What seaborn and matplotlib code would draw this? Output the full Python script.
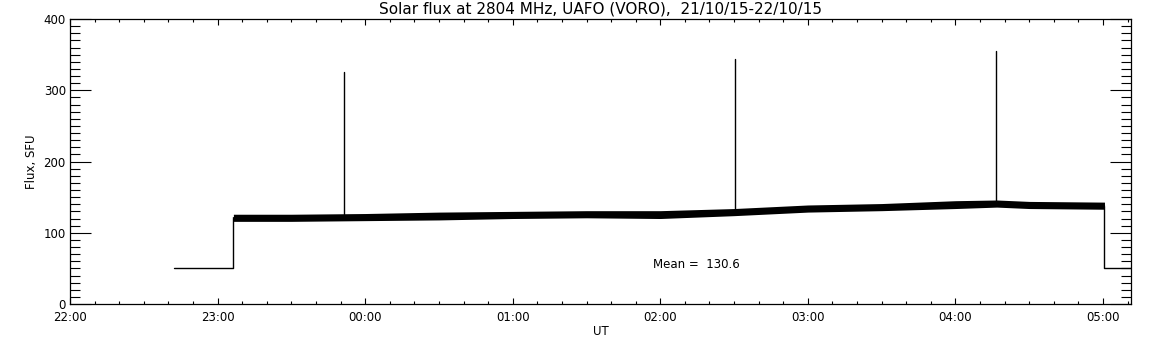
import numpy as np
import pandas as pd
import matplotlib
matplotlib.use("Agg")
import matplotlib.pyplot as plt
from matplotlib.ticker import MultipleLocator, FuncFormatter
import seaborn as sns

# time is in hours after 22:00 UT on 21/10/15
# slow drift of the flux level (centre of the noisy band)
band_t = [1.107, 1.5, 2.0, 2.5, 3.0, 3.5, 4.0, 4.5, 5.0, 5.5, 6.0, 6.28, 6.5, 7.01]
band_mid = [121, 121, 122, 123, 125, 126, 126, 129, 134, 136, 139, 141, 139, 138]
band_lo = [116, 116, 117, 118, 120, 121, 120, 124, 129, 131, 134, 136, 134, 133]
band_hi = [126, 126, 127, 129, 130, 131, 131, 134, 139, 141, 145, 146, 144, 143]

# calibration steps at both ends (flux on load, 50 SFU)
cal_t = [0.705, 1.107, 1.107]
cal_flux = [50, 50, 121]
end_t = [7.01, 7.01, 7.19]
end_flux = [138, 50, 50]

# short interference spikes
spike_t = [1.858, 4.508, 6.278]
spike_base = [123, 129, 141]
spike_peak = [326, 344, 355]

mean_flux = 130.6
title = "Solar flux at 2804 MHz, UAFO (VORO),  21/10/15-22/10/15"

sns.set_style("ticks")
plt.rcParams["font.family"] = ["DejaVu Sans"]
plt.rcParams["font.size"] = 8.5
for k in ["text.color", "axes.labelcolor", "xtick.color", "ytick.color"]:
    plt.rcParams[k] = "black"

fig = plt.figure(figsize=(11.52, 3.45), dpi=100)
ax = fig.add_axes([0.0608, 0.1188, 0.9210, 0.8261])

# noisy band
ax.fill_between(band_t, band_lo, band_hi, color="black", lw=0)
sns.lineplot(x=band_t, y=band_mid, color="black", lw=1, ax=ax, estimator=None, sort=False)

# calibration steps
sns.lineplot(x=cal_t, y=cal_flux, color="black", lw=1, ax=ax, estimator=None, sort=False)
sns.lineplot(x=end_t, y=end_flux, color="black", lw=1, ax=ax, estimator=None, sort=False)

# spikes
for t, b, p in zip(spike_t, spike_base, spike_peak):
    ax.plot([t, t], [b, p], color="black", lw=1)

ax.text(3.95, 55, "Mean =  %.1f" % mean_flux, ha="left", va="center", fontsize=8.5)

ax.set_xlim(0, 7.19)
ax.set_ylim(0, 400)
ax.xaxis.set_major_locator(MultipleLocator(1))
ax.xaxis.set_minor_locator(MultipleLocator(1 / 6))
ax.yaxis.set_major_locator(MultipleLocator(100))
ax.yaxis.set_minor_locator(MultipleLocator(10))
ax.xaxis.set_major_formatter(FuncFormatter(lambda h, pos: "%02d:00" % ((22 + int(round(h))) % 24)))

ax.tick_params(axis="x", which="major", direction="in", length=4, width=0.8,
               top=True, bottom=True, pad=5)
ax.tick_params(axis="x", which="minor", direction="in", length=2, width=0.8,
               top=True, bottom=True)
ax.tick_params(axis="y", which="major", direction="in", length=15, width=0.8,
               left=True, right=True, pad=3)
ax.tick_params(axis="y", which="minor", direction="in", length=7.5, width=0.8,
               left=True, right=True)
for s in ax.spines.values():
    s.set_visible(True)
    s.set_linewidth(0.9)
    s.set_color("black")

ax.set_xlabel("UT", fontsize=8.5, labelpad=1)
ax.set_ylabel("Flux, SFU", fontsize=8.5, labelpad=4)
ax.set_title(title, fontsize=11, pad=4)

fig.savefig("out.png", dpi=100)
